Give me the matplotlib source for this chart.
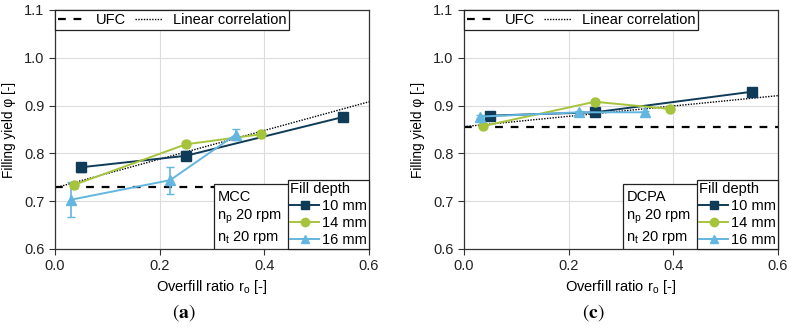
import matplotlib
matplotlib.use('Agg')
import matplotlib.pyplot as plt
from matplotlib.lines import Line2D
from matplotlib.patches import Rectangle
import numpy as np

plt.rcParams['font.family'] = ['Liberation Sans', 'DejaVu Sans']
plt.rcParams['mathtext.fontset'] = 'custom'
plt.rcParams['mathtext.rm'] = 'Liberation Sans'
plt.rcParams['mathtext.it'] = 'Liberation Sans:italic'
plt.rcParams['mathtext.bf'] = 'Liberation Sans:bold'

# data
depths = ['10 mm', '14 mm', '16 mm']
colors = ['#0f3b57', '#a6c33c', '#63b6df']
markers = ['s', 'o', '^']

# (a) MCC
mcc_x = [[0.05, 0.25, 0.55], [0.036, 0.25, 0.393], [0.03, 0.22, 0.345]]
mcc_y = [[0.771, 0.795, 0.876], [0.734, 0.819, 0.840], [0.703, 0.744, 0.839]]
mcc_err = [[0.009, 0.009, 0.008], [0.006, 0.006, 0.006], [0.037, 0.028, 0.012]]
mcc_ufc = 0.729
mcc_fit = (0.728, 0.30)  # intercept, slope

# (c) DCPA
dcpa_x = [[0.05, 0.25, 0.55], [0.036, 0.25, 0.393], [0.03, 0.22, 0.345]]
dcpa_y = [[0.879, 0.886, 0.929], [0.857, 0.908, 0.893], [0.877, 0.886, 0.886]]
dcpa_err = [[0.007, 0.007, 0.006], [0.004, 0.004, 0.004], [0.003, 0.003, 0.003]]
dcpa_ufc = 0.855
dcpa_fit = (0.856, 0.108)

panels = [
    ('MCC', mcc_x, mcc_y, mcc_err, mcc_ufc, mcc_fit, 'a'),
    ('DCPA', dcpa_x, dcpa_y, dcpa_err, dcpa_ufc, dcpa_fit, 'c'),
]

fig = plt.figure(figsize=(7.93, 3.34), dpi=100)
W, H = 793.0, 334.0
lefts = [55, 464]
fs = 10.5

for left, (name, xs, ys, errs, ufc, fit, tag) in zip(lefts, panels):
    ax = fig.add_axes([left / W, (H - 249) / H, 314 / W, 239 / H])
    ax.set_xlim(0, 0.6)
    ax.set_ylim(0.6, 1.1)
    ax.set_xticks([0.0, 0.2, 0.4, 0.6])
    ax.set_yticks([0.6, 0.7, 0.8, 0.9, 1.0, 1.1])
    ax.xaxis.set_major_formatter(matplotlib.ticker.FormatStrFormatter('%.1f'))
    ax.yaxis.set_major_formatter(matplotlib.ticker.FormatStrFormatter('%.1f'))
    ax.grid(True, color='#dcdcdc', linewidth=0.8)
    ax.set_axisbelow(True)
    ax.tick_params(direction='out', length=4, width=0.8, labelsize=fs,
                   color='#333333', labelcolor='#222222')
    for sp in ax.spines.values():
        sp.set_color('#333333')
        sp.set_linewidth(0.9)

    h_ufc, = ax.plot([0, 0.6], [ufc, ufc], color='black', linestyle=(0, (3.5, 3.5)),
                     linewidth=1.6, label='UFC', zorder=2)
    fx = np.array([0.0, 0.6])
    h_fit, = ax.plot(fx, fit[0] + fit[1] * fx, color='black', linestyle=(0, (1, 1)),
                     linewidth=1.0, label='Linear correlation', zorder=2)

    handles = []
    for x, y, e, c, m, d in zip(xs, ys, errs, colors, markers, depths):
        ax.errorbar(x, y, yerr=e, color=c, marker=m, markersize=6.5,
                    linewidth=1.4, capsize=3, elinewidth=1.2, zorder=3)
        handles.append(Line2D([], [], color=c, marker=m, markersize=6,
                              linewidth=1.4, label=d))

    leg1 = ax.legend(handles=[h_ufc, h_fit], loc='upper left', ncol=2,
                     bbox_to_anchor=(0, 1), borderaxespad=0, fancybox=False,
                     edgecolor='#222222', framealpha=1, fontsize=fs,
                     handlelength=1.85, handletextpad=0.75, columnspacing=0.6,
                     borderpad=0.2)
    leg1.get_frame().set_linewidth(0.9)
    ax.add_artist(leg1)

    leg2 = ax.legend(handles=handles, loc='lower right', bbox_to_anchor=(1, 0),
                     borderaxespad=0, title='Fill depth', alignment='left',
                     fancybox=False, edgecolor='#222222', framealpha=1,
                     fontsize=fs, title_fontsize=fs, handlelength=1.95,
                     handletextpad=0.2, borderpad=0.15, labelspacing=0.2)
    leg2.get_frame().set_linewidth(0.9)
    leg2._legend_box.sep = 2
    leg2.set_zorder(6)

    # info box left of the legend
    ax.add_patch(Rectangle((0.506, 0.0), 0.24, 0.272, transform=ax.transAxes,
                           facecolor='white', edgecolor='#222222', linewidth=0.9,
                           zorder=5))
    info = [name, 'n$_\\mathrm{p}$ 20 rpm', 'n$_\\mathrm{t}$ 20 rpm']
    for txt, yb in zip(info, [0.202, 0.124, 0.032]):
        ax.text(0.517, yb, txt, transform=ax.transAxes, fontsize=fs,
                va='baseline', ha='left', zorder=5.5)

    ax.set_xlabel('Overfill ratio r$_\\mathrm{o}$ [-]', fontsize=fs, labelpad=3)
    ax.set_ylabel('Filling yield φ [-]', fontsize=9.8, labelpad=6)

    fig.text((left + 129) / W, (H - 313) / H, '$(\\mathbf{' + tag + '})$',
             fontsize=14, ha='center', va='center', math_fontfamily='stix')

fig.savefig('out.png', dpi=100)
